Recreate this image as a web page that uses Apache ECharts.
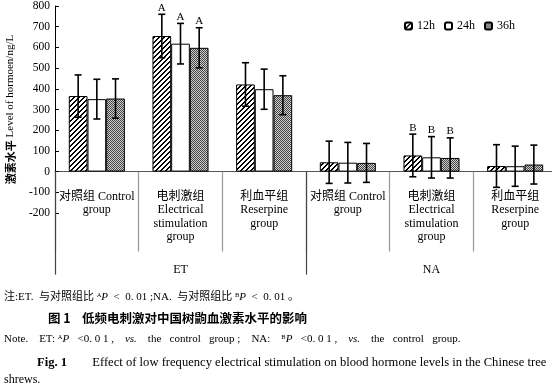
<!DOCTYPE html>
<html>
<head>
<meta charset="utf-8">
<script src="https://cdn.jsdelivr.net/npm/echarts@6/dist/echarts.min.js"></script>
<style>html,body{margin:0;padding:0;background:#fff}#c{width:552px;height:386px}</style>
</head>
<body>
<div id="c"></div>
<script>
// ---- data ----
var categories = ['对照组 Control\ngroup', '电刺激组\nElectrical\nstimulation\ngroup', '利血平组\nReserpine\ngroup',
                  '对照组 Control\ngroup', '电刺激组\nElectrical\nstimulation\ngroup', '利血平组\nReserpine\ngroup'];
var outerCategories = ['ET', 'NA'];
var seriesNames = ['12h', '24h', '36h'];
var mean12 = [365, 655, 421, 45, 78, 27];
var mean24 = [350, 618, 398, 43, 69, 26];
var mean36 = [353, 598, 369, 42, 66, 34];
var sd12 = [102, 105, 105, 102, 103, 103];
var sd24 = [96, 98, 97, 98, 100, 97];
var sd36 = [95, 97, 94, 94, 97, 94];
var sig12 = ['', 'A', '', '', 'B', ''];
var sig24 = ['', 'A', '', '', 'B', ''];
var sig36 = ['', 'A', '', '', 'B', ''];
var yTicks = {min: -200, max: 800, interval: 100};

var means = [mean12, mean24, mean36];
var sds = [sd12, sd24, sd36];
var sigs = [sig12, sig24, sig36];

var SERIF = '"Liberation Serif","Noto Sans CJK SC",serif';
var CAT_GAP = 0.33;

function makeTile(size, fn) {
  var c = document.createElement('canvas');
  c.width = size; c.height = size;
  var ctx = c.getContext('2d');
  for (var y = 0; y < size; y++) {
    for (var x = 0; x < size; x++) {
      ctx.fillStyle = fn(x, y);
      ctx.fillRect(x, y, 1, 1);
    }
  }
  return c;
}
// "////" hatch
var hatchTile = makeTile(5, function (x, y) { return ((x + y) % 5 < 2) ? '#000' : '#fff'; });
// fine checker
var checkTile = makeTile(2, function (x, y) { return ((x + y) % 2 === 0) ? '#444' : '#cfcfcf'; });

var barStyles = [
  {color: {image: hatchTile, repeat: 'repeat'}, borderColor: '#000', borderWidth: 1},
  {color: '#fff', borderColor: '#000', borderWidth: 1},
  {color: {image: checkTile, repeat: 'repeat'}, borderColor: '#000', borderWidth: 1}
];

var series = [];
seriesNames.forEach(function (name, i) {
  series.push({
    name: name, type: 'bar', xAxisIndex: 0, data: means[i],
    barGap: '0%', barCategoryGap: (CAT_GAP * 100) + '%',
    itemStyle: barStyles[i], emphasis: {disabled: true}, z: 2
  });
});
seriesNames.forEach(function (name, i) {
  var d = means[i].map(function (m, k) { return [k, m, sds[i][k], sigs[i][k]]; });
  series.push({
    type: 'custom', xAxisIndex: 0, z: 5, silent: true,
    data: d,
    renderItem: function (params, api) {
      var k = api.value(0), m = api.value(1), s = api.value(2);
      var sig = d[params.dataIndex][3];
      var catW = api.size([1, 0])[0];
      var barW = catW * (1 - CAT_GAP) / 3;
      var off = (i - 1) * barW;
      var top = api.coord([k, m + s]);
      var bot = api.coord([k, m - s]);
      var x = top[0] + off;
      var cap = 3.5;
      var st = {stroke: '#000', lineWidth: 1.6};
      var children = [
        {type: 'line', shape: {x1: x, y1: top[1], x2: x, y2: bot[1]}, style: st},
        {type: 'line', shape: {x1: x - cap, y1: top[1], x2: x + cap, y2: top[1]}, style: st},
        {type: 'line', shape: {x1: x - cap, y1: bot[1], x2: x + cap, y2: bot[1]}, style: st}
      ];
      if (sig) {
        children.push({type: 'text', style: {text: sig, x: x, y: top[1] - 1, align: 'center', verticalAlign: 'bottom',
          font: '11px "Liberation Serif", serif', fill: '#000'}});
      }
      return {type: 'group', children: children};
    }
  });
});

var option = {
  animation: false,
  backgroundColor: '#fff',
  legend: {
    data: seriesNames, left: 404, top: 20, padding: 0, itemWidth: 7, itemHeight: 7, itemGap: 9,
    textStyle: {fontFamily: SERIF, fontSize: 12, color: '#000'}, selectedMode: false
  },
  grid: {left: 55, right: -5, top: 6, bottom: 173, containLabel: false, outerBoundsMode: 'none'},
  xAxis: [
    {type: 'category', data: categories,
     axisLine: {onZero: true, lineStyle: {color: '#555', width: 1}},
     axisTick: {show: true, length: 80, lineStyle: {color: '#999', width: 1.2}},
     axisLabel: {interval: 0, margin: -23, fontFamily: SERIF, fontSize: 12, lineHeight: 13.5, color: '#000'}},
    {type: 'category', data: outerCategories, position: 'bottom',
     axisLine: {show: false, onZero: true, onZeroAxisIndex: 0},
     axisTick: {show: true, length: 103, lineStyle: {color: '#444', width: 1.2}},
     axisLabel: {interval: 0, margin: 51, fontFamily: SERIF, fontSize: 12, color: '#000'}}
  ],
  yAxis: {
    type: 'value', min: yTicks.min, max: yTicks.max, interval: yTicks.interval,
    name: '{c|激素水平} Level of hormoen/ng/L', nameLocation: 'middle', nameGap: 39, nameRotate: 90,
    nameTextStyle: {fontFamily: SERIF, fontSize: 11, color: '#000',
      rich: {c: {fontFamily: '"Noto Sans CJK SC"', fontWeight: 'bold', fontSize: 11, color: '#000'}}},
    axisLine: {show: true, lineStyle: {color: '#000', width: 1}},
    axisTick: {show: true, inside: true, length: 4, lineStyle: {color: '#000'}},
    axisLabel: {fontFamily: SERIF, fontSize: 11.5, color: '#000', margin: 5},
    splitLine: {show: false}
  },
  title: [
    {text: '注:ET.  与对照组比 {s|A}{i|P}  <  0. 01 ;NA.  与对照组比 {s|B}{i|P}  <  0. 01 。', left: 4, top: 292, padding: 0,
     textStyle: {fontFamily: SERIF, fontSize: 11, fontWeight: 'normal', color: '#000',
       rich: {s: {fontSize: 6.5, verticalAlign: 'top', fontFamily: SERIF}, i: {fontStyle: 'italic', fontSize: 11, fontFamily: SERIF}}}},
    {text: '图 1    低频电刺激对中国树鼩血激素水平的影响', left: 48, top: 312, padding: 0,
     textStyle: {fontFamily: '"Noto Sans CJK SC"', fontSize: 12.5, fontWeight: 'bold', color: '#000'}},
    {text: 'Note.    ET: {s|A}{i|P}   <0. 0 1 ,    {i|vs.}    the   control   group ;    NA:    {s|B}{i|P}   <0. 0 1 ,    {i|vs.}    the   control   group.', left: 4, top: 334, padding: 0,
     textStyle: {fontFamily: SERIF, fontSize: 11, fontWeight: 'normal', color: '#000',
       rich: {s: {fontSize: 6.5, verticalAlign: 'top', fontFamily: SERIF}, i: {fontStyle: 'italic', fontSize: 11, fontFamily: SERIF}}}},
    {text: '{b|Fig. 1}        Effect of low frequency electrical stimulation on blood hormone levels in the Chinese tree', left: 37, top: 356, padding: 0,
     textStyle: {fontFamily: SERIF, fontSize: 12.6, fontWeight: 'normal', color: '#000',
       rich: {b: {fontWeight: 'bold', fontSize: 12.6, fontFamily: SERIF}}}},
    {text: 'shrews.', left: 4, top: 374, padding: 0,
     textStyle: {fontFamily: SERIF, fontSize: 12, fontWeight: 'normal', color: '#000'}}
  ],
  series: series
};

var chart = echarts.init(document.getElementById('c'), null, {renderer: 'canvas'});
chart.setOption(option);
</script>
</body>
</html>
